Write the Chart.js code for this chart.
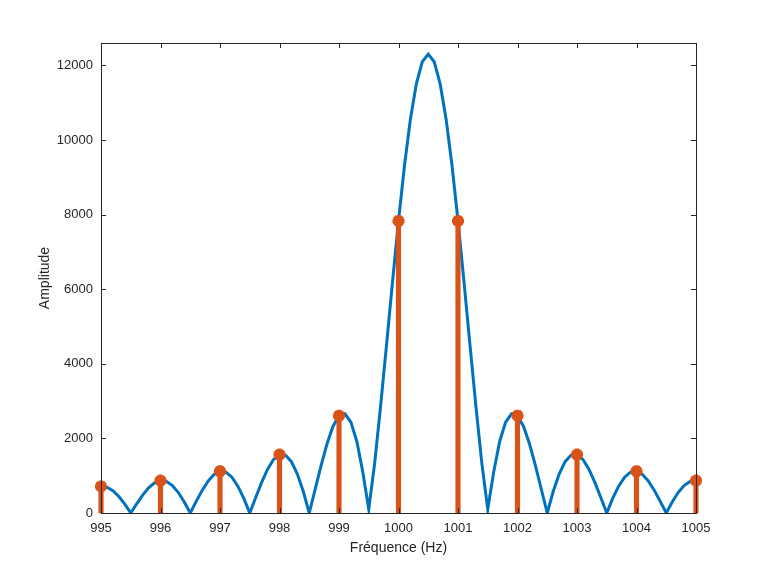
<!DOCTYPE html>
<html>
<head>
<meta charset="utf-8">
<script src="https://cdn.jsdelivr.net/npm/chart.js@4"></script>
<style>
  body { margin: 0; background: #fff; }
  canvas { display: block; }
</style>
</head>
<body>
<canvas id="myChart" width="768" height="576"></canvas>
<script>
// continuous spectrum, every 0.1 Hz
const curveFreq = [
  995.0, 995.1, 995.2, 995.3, 995.4, 995.5, 995.6, 995.7, 995.8, 995.9,
  996.0, 996.1, 996.2, 996.3, 996.4, 996.5, 996.6, 996.7, 996.8, 996.9,
  997.0, 997.1, 997.2, 997.3, 997.4, 997.5, 997.6, 997.7, 997.8, 997.9,
  998.0, 998.1, 998.2, 998.3, 998.4, 998.5, 998.6, 998.7, 998.8, 998.9,
  999.0, 999.1, 999.2, 999.3, 999.4, 999.5, 999.6, 999.7, 999.8, 999.9,
  1000.0, 1000.1, 1000.2, 1000.3, 1000.4, 1000.5, 1000.6, 1000.7, 1000.8, 1000.9,
  1001.0, 1001.1, 1001.2, 1001.3, 1001.4, 1001.5, 1001.6, 1001.7, 1001.8, 1001.9,
  1002.0, 1002.1, 1002.2, 1002.3, 1002.4, 1002.5, 1002.6, 1002.7, 1002.8, 1002.9,
  1003.0, 1003.1, 1003.2, 1003.3, 1003.4, 1003.5, 1003.6, 1003.7, 1003.8, 1003.9,
  1004.0, 1004.1, 1004.2, 1004.3, 1004.4, 1004.5, 1004.6, 1004.7, 1004.8, 1004.9,
  1005.0
];
const curveAmp = [
  712, 690, 598, 443, 237, 0, 247, 479, 674, 810,
  870, 846, 737, 548, 295, 0, 310, 606, 856, 1034,
  1119, 1095, 960, 719, 390, 0, 417, 822, 1173, 1432,
  1566, 1552, 1377, 1046, 576, 0, 637, 1279, 1863, 2327,
  2610, 2660, 2436, 1918, 1100, 100, 1344, 2877, 4525, 6206,
  7830, 9309, 10558, 11507, 12098, 12300, 12098, 11507, 10558, 9309,
  7830, 6206, 4525, 2877, 1344, 100, 1100, 1918, 2436, 2660,
  2610, 2327, 1863, 1279, 637, 0, 576, 1046, 1377, 1552,
  1566, 1432, 1173, 822, 417, 0, 390, 719, 960, 1095,
  1119, 1034, 856, 606, 310, 0, 295, 548, 737, 846,
  870
];

// sampled values (stems)
const stemFreq = [995, 996, 997, 998, 999, 1000, 1001, 1002, 1003, 1004, 1005];
const stemAmp = [712, 870, 1119, 1566, 2610, 7830, 7830, 2610, 1566, 1119, 870];

// tick labels
const xTicks = [995, 996, 997, 998, 999, 1000, 1001, 1002, 1003, 1004, 1005];
const yTicks = [0, 2000, 4000, 6000, 8000, 10000, 12000];

const xMin = 995, xMax = 1005;
const yMin = 0, yMax = 12600;

const blue = '#0072BD';
const orange = '#D95319';
const axisColor = '#262626';
const fontFamily = '"Liberation Sans", Arial, Helvetica, sans-serif';

// MATLAB-like box with inward ticks on all four sides
const boxPlugin = {
  id: 'matlabBox',
  afterDraw(chart) {
    const {ctx, chartArea: a, scales} = chart;
    ctx.save();
    ctx.strokeStyle = axisColor;
    ctx.lineWidth = 1;
    ctx.strokeRect(Math.round(a.left) + 0.5, Math.round(a.top) + 0.5,
      Math.round(a.right - a.left), Math.round(a.bottom - a.top));
    const len = 5;
    ctx.beginPath();
    scales.x.ticks.forEach(t => {
      const px = Math.round(scales.x.getPixelForValue(t.value)) + 0.5;
      ctx.moveTo(px, a.bottom); ctx.lineTo(px, a.bottom - len);
      ctx.moveTo(px, a.top); ctx.lineTo(px, a.top + len);
    });
    scales.y.ticks.forEach(t => {
      const py = Math.round(scales.y.getPixelForValue(t.value)) + 0.5;
      ctx.moveTo(a.left, py); ctx.lineTo(a.left + len, py);
      ctx.moveTo(a.right, py); ctx.lineTo(a.right - len, py);
    });
    ctx.stroke();
    ctx.restore();
  }
};

const ctx = document.getElementById('myChart');

new Chart(ctx, {
  data: {
    datasets: [
      {
        type: 'line',
        data: curveFreq.map((f, i) => ({x: f, y: curveAmp[i]})),
        borderColor: blue,
        borderWidth: 3,
        pointRadius: 0,
        tension: 0,
        fill: false,
        order: 3
      },
      {
        type: 'bar',
        data: stemFreq.map((f, i) => ({x: f, y: stemAmp[i]})),
        backgroundColor: orange,
        barThickness: 4.5,
        clip: false,
        order: 2
      },
      {
        type: 'line',
        data: stemFreq.map((f, i) => ({x: f, y: stemAmp[i]})),
        showLine: false,
        pointStyle: 'star',
        pointRadius: 6,
        pointBorderWidth: 4,
        pointBorderColor: orange,
        pointBackgroundColor: orange,
        clip: false,
        order: 1
      }
    ]
  },
  options: {
    responsive: false,
    devicePixelRatio: 1,
    animation: false,
    layout: { padding: { top: 43, right: 72, left: 0, bottom: 0 } },
    plugins: {
      legend: { display: false },
      tooltip: { enabled: false }
    },
    scales: {
      x: {
        type: 'linear',
        min: xMin,
        max: xMax,
        offset: false,
        grid: { display: false, drawTicks: false },
        border: { display: false },
        afterBuildTicks: s => { s.ticks = xTicks.map(v => ({value: v})); },
        ticks: {
          padding: 8,
          color: axisColor,
          font: { family: fontFamily, size: 13 },
          callback: v => String(v)
        },
        title: {
          display: true,
          text: 'Fréquence (Hz)',
          color: axisColor,
          font: { family: fontFamily, size: 14 },
          padding: { top: 0, bottom: 19.6 }
        },
        afterFit: s => { s.height = 63; }
      },
      y: {
        type: 'linear',
        min: yMin,
        max: yMax,
        grid: { display: false, drawTicks: false },
        border: { display: false },
        afterBuildTicks: s => { s.ticks = yTicks.map(v => ({value: v})); },
        ticks: {
          padding: 8,
          color: axisColor,
          font: { family: fontFamily, size: 13 },
          callback: v => String(v)
        },
        title: {
          display: true,
          text: 'Amplitude',
          color: axisColor,
          font: { family: fontFamily, size: 14 },
          padding: { top: 36.6, bottom: 0 }
        },
        afterFit: s => { s.width = 101; }
      }
    }
  },
  plugins: [boxPlugin]
});
</script>
</body>
</html>
